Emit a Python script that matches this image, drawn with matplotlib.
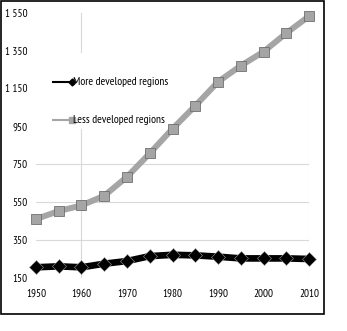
import matplotlib
matplotlib.use("Agg")
import matplotlib.pyplot as plt
from matplotlib.ticker import FuncFormatter
from matplotlib.patches import Rectangle
from matplotlib.transforms import IdentityTransform

plt.rcParams['font.family'] = ['PT Sans Narrow', 'DejaVu Sans']

years = [1950, 1955, 1960, 1965, 1970, 1975, 1980, 1985, 1990, 1995, 2000, 2005, 2010]
more_developed = [205, 210, 205, 224, 238, 264, 271, 268, 261, 252, 252, 252, 249]
less_developed = [460, 502, 532, 583, 683, 807, 937, 1058, 1185, 1270, 1344, 1442, 1532]
series_labels = ['More developed regions', 'Less developed regions']
y_ticks = [150, 350, 550, 750, 950, 1150, 1350, 1550]
x_ticks = [1950, 1960, 1970, 1980, 1990, 2000, 2010]

fig = plt.figure(figsize=(3.47, 3.31), dpi=100)
ax = fig.add_axes([0.1037, 0.161, 0.787, 0.8006])

# light grid lines, only where the reference shows them
for yv in [350, 550, 750]:
    ax.axhline(yv, color='#d9d9d9', lw=0.8, zorder=0)
ax.axvline(1960, ymin=0, ymax=0.56, color='#d9d9d9', lw=0.8, zorder=0)
ax.axvline(1960, ymin=0.85, ymax=1.0, color='#d9d9d9', lw=0.8, zorder=0)
ax.axvline(2010, ymin=0, ymax=0.97, color='#d9d9d9', lw=0.8, zorder=0)

ax.plot(years, less_developed, '-s', color='#a5a5a5', lw=4.3, markersize=7.5,
        markerfacecolor='#a5a5a5', markeredgecolor='#6f6f6f', markeredgewidth=0.6,
        clip_on=False, zorder=3)
ax.plot(years, more_developed, '-D', color='black', lw=4.8, markersize=7.5,
        markerfacecolor='black', markeredgecolor='#9a9a9a', markeredgewidth=0.4,
        clip_on=False, zorder=3)

ax.set_xlim(1950, 2010)
ax.set_ylim(150, 1550)
ax.set_xticks(x_ticks)
ax.set_yticks(y_ticks)
ax.yaxis.set_major_formatter(FuncFormatter(lambda v, p: '{:,}'.format(int(v)).replace(',', ' ')))
ax.tick_params(length=0, labelsize=8, colors='black')
ax.tick_params(axis='x', pad=8)
ax.tick_params(axis='y', pad=6)
for s in ax.spines.values():
    s.set_visible(False)

# legend drawn by hand, small markers
lx0, lx1 = 1953.8, 1958.0
ax.plot([lx0, lx1], [1183, 1183], '-D', color='black', lw=1.5, markersize=3.5,
        markevery=[1], clip_on=False)
ax.plot([lx0, lx1], [984, 984], '-s', color='#a5a5a5', lw=1.5, markersize=4,
        markevery=[1], clip_on=False)
ax.text(1958.1, 1183, series_labels[0], fontsize=8.3, va='center', ha='left')
ax.text(1958.1, 984, series_labels[1], fontsize=8.3, va='center', ha='left')

# outer frame
frame = Rectangle((0.5, 331 - 313.5), 323, 312.5, fill=False, edgecolor='black', lw=1.2)
frame.set_transform(IdentityTransform())
fig.patches.append(frame)

fig.savefig('out.png', dpi=100)
